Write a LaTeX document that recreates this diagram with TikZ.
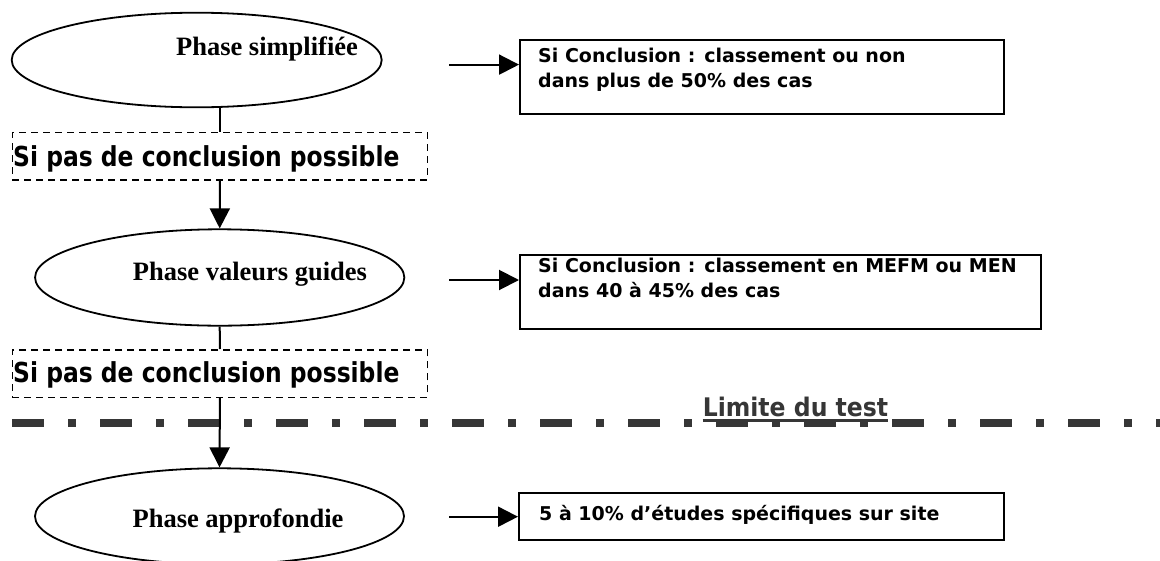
\documentclass[tikz,border=0pt]{standalone}
\usepackage{fontspec}
\usepackage{graphicx}
\usetikzlibrary{shapes.geometric,arrows.meta}
\newfontfamily\labelfont{DejaVu Sans}
\newfontfamily\phasefont{Liberation Serif}
\definecolor{limitgray}{HTML}{363636}
\begin{document}
\begin{tikzpicture}[x=1pt,y=-1pt,
  phase/.style={ellipse, draw, line width=1.8pt, inner sep=0pt},
  phasetext/.style={anchor=base, inner sep=0pt,
    font=\phasefont\bfseries\fontsize{26.5}{30}\selectfont},
  result/.style={rectangle, draw, line width=2pt, inner sep=0pt, anchor=north west},
  resulttext/.style={anchor=base west, inner sep=0pt,
    font=\labelfont\bfseries\fontsize{19}{25}\selectfont},
  condition/.style={rectangle, draw, line width=1.5pt, dash pattern=on 7pt off 5pt,
    inner sep=0pt, anchor=north west},
  conditiontext/.style={anchor=base west, inner sep=0pt,
    font=\labelfont\bfseries\fontsize{27.5}{30}\selectfont},
  link/.style={line width=2pt},
  flow/.style={line width=2pt, -{Triangle[length=20pt,width=20pt]}},
  limitline/.style={line width=7.5pt, color=limitgray,
    dash pattern=on 32pt off 24pt on 8pt off 24pt}
]
\useasboundingbox (0,0) rectangle (1160,560);
\clip (0,0) rectangle (1160,560);

% phases (ellipses) and their titles
\node[phase, minimum width=370pt, minimum height=94.6pt] (e1) at (196.7,60) {};
\node[phasetext] (t1) at (267,55) {Phase simplifiée};
\node[phase, minimum width=369.3pt, minimum height=96.4pt] (e2) at (219.7,277.5) {};
\node[phasetext] (t2) at (250,280) {Phase valeurs guides};
\node[phase, minimum width=369pt, minimum height=96pt] (e3) at (219.5,516.3) {};
\node[phasetext] (t3) at (238,527) {Phase approfondie};

% "no conclusion" conditions (dashed boxes)
\node[condition, minimum width=415pt, minimum height=47.3pt] (c1) at (11.7,131.7) {};
\node[conditiontext] (ct1) at (13,166.7) {\scalebox{0.852}[1]{Si pas de conclusion possible}};
\node[condition, minimum width=415pt, minimum height=47.7pt] (c2) at (11.7,349) {};
\node[conditiontext] (ct2) at (13,382.7) {\scalebox{0.852}[1]{Si pas de conclusion possible}};

% outcome boxes
\node[result, minimum width=484pt, minimum height=74pt] (r1) at (519,38.5) {};
\node[resulttext] (rt1) at (538,62) {\begin{tabular}[t]{@{}l@{}}Si Conclusion : classement ou non\\dans plus de 50\% des cas\end{tabular}};
\node[result, minimum width=521pt, minimum height=74.5pt] (r2) at (519,253.6) {};
\node[resulttext] (rt2) at (538,272) {\begin{tabular}[t]{@{}l@{}}Si Conclusion : classement en MEFM ou MEN\\dans 40 à 45\% des cas\end{tabular}};
\node[result, minimum width=485pt, minimum height=47pt] (r3) at (518,492) {};
\node[resulttext] (rt3) at (539,520) {5 à 10\% d’études spécifiques sur site};

% vertical flow
\draw[link] (e1.south -| c1.north) -- (c1.north);
\draw[flow] (c1.south) -- (e2.north);
\draw[link] (e2.south) -- (c2.north);

% test limit
\coordinate (lstart) at (12,423);
\coordinate (lend) at (1170,423);
\draw[limitline] (lstart) -- (lend);
\node[anchor=base, inner sep=0pt, text depth=5.7pt, fill=white, text=limitgray,
  font=\labelfont\bfseries\fontsize{25.6}{28}\selectfont] (lim) at (795.5,416)
  {\scalebox{0.92}[1]{Limite du test}};
\draw[line width=2.4pt, color=limitgray] ([yshift=-4.5pt]lim.base west) -- ([yshift=-4.5pt]lim.base east);

\draw[flow] (c2.south) -- (e3.north);

% arrows towards outcomes
\coordinate (a1) at (449,64.6);
\coordinate (a2) at (449,280);
\coordinate (a3) at (449,516.7);
\draw[flow] (a1) -- (a1 -| r1.west);
\draw[flow] (a2) -- (a2 -| r2.west);
\draw[flow] (a3) -- (a3 -| r3.west);
\end{tikzpicture}
\end{document}
